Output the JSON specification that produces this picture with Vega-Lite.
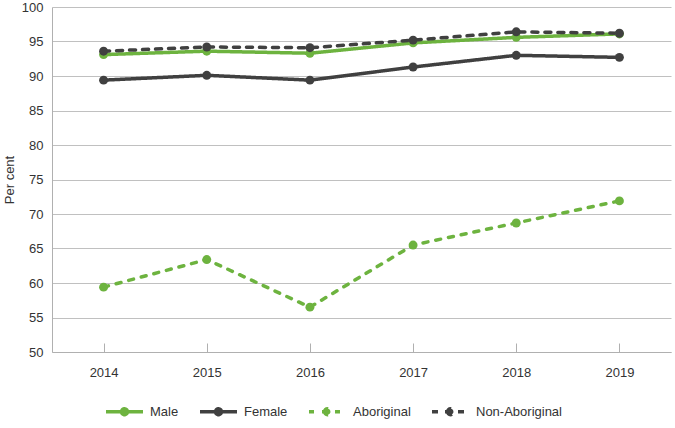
{
  "$schema": "https://vega.github.io/schema/vega-lite/v6.json",
  "width": 619,
  "height": 345,
  "autosize": {"type": "none"},
  "padding": {"left": 52, "top": 7, "right": 4, "bottom": 76},
  "background": "white",
  "config": {
    "font": "Liberation Sans",
    "view": {"stroke": null},
    "axis": {"labelFont": "Liberation Sans", "titleFont": "Liberation Sans", "labelFontSize": 13, "labelColor": "#333333", "titleColor": "#333333", "titleFontSize": 13, "titleFontWeight": "normal"}
  },
  "data": {
    "values": [
      {"year": "2014", "series": "Male", "value": 93.1},
      {"year": "2015", "series": "Male", "value": 93.6},
      {"year": "2016", "series": "Male", "value": 93.3},
      {"year": "2017", "series": "Male", "value": 94.8},
      {"year": "2018", "series": "Male", "value": 95.6},
      {"year": "2019", "series": "Male", "value": 96.1},
      {"year": "2014", "series": "Female", "value": 89.4},
      {"year": "2015", "series": "Female", "value": 90.1},
      {"year": "2016", "series": "Female", "value": 89.4},
      {"year": "2017", "series": "Female", "value": 91.3},
      {"year": "2018", "series": "Female", "value": 93.0},
      {"year": "2019", "series": "Female", "value": 92.7},
      {"year": "2014", "series": "Aboriginal", "value": 59.4},
      {"year": "2015", "series": "Aboriginal", "value": 63.4},
      {"year": "2016", "series": "Aboriginal", "value": 56.5},
      {"year": "2017", "series": "Aboriginal", "value": 65.5},
      {"year": "2018", "series": "Aboriginal", "value": 68.7},
      {"year": "2019", "series": "Aboriginal", "value": 71.9},
      {"year": "2014", "series": "Non-Aboriginal", "value": 93.6},
      {"year": "2015", "series": "Non-Aboriginal", "value": 94.2},
      {"year": "2016", "series": "Non-Aboriginal", "value": 94.1},
      {"year": "2017", "series": "Non-Aboriginal", "value": 95.2},
      {"year": "2018", "series": "Non-Aboriginal", "value": 96.4},
      {"year": "2019", "series": "Non-Aboriginal", "value": 96.2}
    ]
  },
  "mark": {"type": "line", "strokeWidth": 3.5, "strokeCap": "round", "point": {"filled": true, "size": 80, "opacity": 1}},
  "encoding": {
    "x": {
      "field": "year", "type": "ordinal",
      "scale": {"type": "point", "padding": 0.5},
      "axis": {"title": null, "labelAngle": 0, "domainColor": "#b0b0b0", "tickColor": "#b0b0b0", "tickSize": -9, "labelPadding": 23, "grid": false}
    },
    "y": {
      "field": "value", "type": "quantitative",
      "scale": {"domain": [50, 100], "nice": false, "zero": false},
      "axis": {"title": "Per cent", "values": [50, 55, 60, 65, 70, 75, 80, 85, 90, 95, 100], "ticks": false, "labelPadding": 9, "domainColor": "#b0b0b0", "gridColor": "#c0c0c0", "titlePadding": 5}
    },
    "color": {
      "field": "series", "type": "nominal",
      "scale": {"domain": ["Male", "Female", "Aboriginal", "Non-Aboriginal"], "range": ["#6db33f", "#404040", "#6db33f", "#404040"]},
      "legend": {
        "title": null, "orient": "none", "direction": "horizontal", "legendX": 52, "legendY": 384,
        "symbolType": "M-1,0H1M-0.16,0a0.16,0.16 0 1,0 0.32,0a0.16,0.16 0 1,0 -0.32,0",
        "symbolSize": 1369, "symbolStrokeWidth": 3.5,
        "labelFontSize": 13, "labelColor": "#333333", "labelOffset": 5, "columnPadding": 14,
        "encode": {"symbols": {"update": {"fill": {"scale": "color", "field": "value"}, "opacity": {"value": 1}}}}
      }
    },
    "strokeDash": {
      "field": "series", "type": "nominal",
      "scale": {"domain": ["Male", "Female", "Aboriginal", "Non-Aboriginal"], "range": [[1, 0], [1, 0], [5, 8], [6, 7]]},
      "legend": null
    }
  }
}
